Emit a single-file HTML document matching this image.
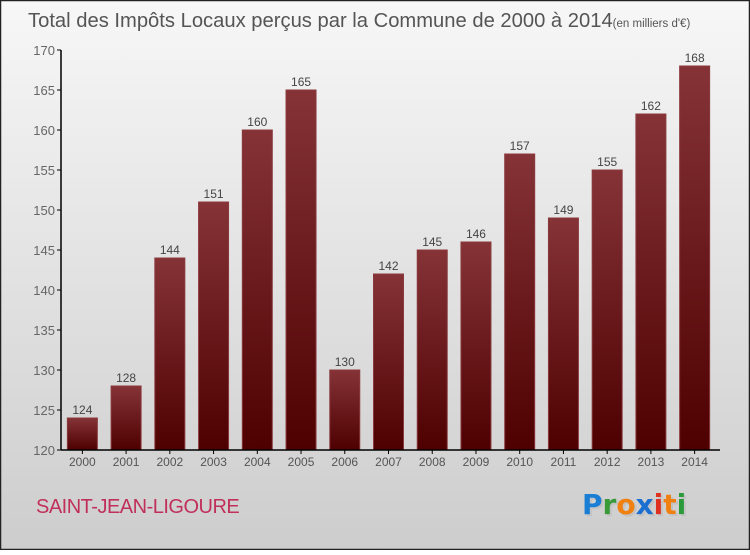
<!DOCTYPE html>
<html><head><meta charset="utf-8"><style>
body{margin:0;width:750px;height:550px;overflow:hidden;font-family:"Liberation Sans",sans-serif}
</style></head><body>
<svg width="750" height="550" xmlns="http://www.w3.org/2000/svg">
<defs>
<linearGradient id="bg" x1="0" y1="0" x2="0" y2="1"><stop offset="0" stop-color="#f7f7f7"/><stop offset="1" stop-color="#cdcdcd"/></linearGradient>
<linearGradient id="bar" x1="0" y1="0" x2="0" y2="1"><stop offset="0" stop-color="#853337"/><stop offset="1" stop-color="#4e0000"/></linearGradient>
</defs>
<rect x="0.5" y="0.5" width="749" height="549" fill="url(#bg)" stroke="#222" stroke-width="1.5"/>
<text x="28" y="27" font-size="20.2" fill="#555">Total des Impôts Locaux perçus par la Commune de 2000 à 2014<tspan font-size="11.5">(en milliers d'€)</tspan></text>
<g id="plot"></g>
<text x="36" y="513" font-size="20" fill="#c0305a" letter-spacing="-0.5">SAINT-JEAN-LIGOURE</text>
<g font-size="28" font-family="'DejaVu Sans',sans-serif" font-weight="bold">
<text x="584" y="516" fill="#bbb" opacity="0.6">Proxiti</text>
<text x="582" y="514"><tspan fill="#1a7fd4">P</tspan><tspan fill="#3a9a3a">r</tspan><tspan fill="#f08010">o</tspan><tspan fill="#1a6fd0">x</tspan><tspan fill="#e03020">i</tspan><tspan fill="#f08010">t</tspan><tspan fill="#2a9a3a">i</tspan></text>
</g>
</svg>
<script>
const years=["2000","2001","2002","2003","2004","2005","2006","2007","2008","2009","2010","2011","2012","2013","2014"];
const values=[124,128,144,151,160,165,130,142,145,146,157,149,155,162,168];
const yTicks=[120,125,130,135,140,145,150,155,160,165,170];
const NS="http://www.w3.org/2000/svg";
const g=document.getElementById('plot');
const y0=450,y1=50,vmin=120,vmax=170,x0=61,x1=720;
const y=v=>y0-(v-vmin)/(vmax-vmin)*(y0-y1);
const step=(x1-x0-3)/years.length;
const cx=i=>x0+step*(i+0.5)-0.5;
function el(t,a){const e=document.createElementNS(NS,t);for(const k in a)e.setAttribute(k,a[k]);g.appendChild(e);return e;}
yTicks.forEach(t=>{
  const l=el('line',{x1:x0-4,x2:x0,y1:y(t),y2:y(t),stroke:'#000'});
  
  
  const tx=el('text',{x:x0-6,y:y(t)+5,'text-anchor':'end','font-size':13,fill:'#666'});
  tx.textContent=t;
  
  
});
values.forEach((v,i)=>{
  const w=30;
  const r=el('rect',{x:cx(i)-w/2,y:y(v),width:w,height:y0-y(v),fill:'url(#bar)',stroke:'#8a3a3e','stroke-width':1});
  
  
  const t=el('text',{x:cx(i),y:y(v)-4,'text-anchor':'middle','font-size':12,fill:'#444'});
  t.textContent=v;
  
  
  const xl=el('text',{x:cx(i),y:y0+16,'text-anchor':'middle','font-size':12,fill:'#555'});
  xl.textContent=years[i];
  
  
  const tk=el('line',{x1:cx(i),x2:cx(i),y1:y0,y2:y0+4,stroke:'#000'});
  
  
});
const ya=el('line',{x1:x0,x2:x0,y1:y1,y2:y0,stroke:'#000','stroke-width':1.5});


const xa=el('line',{x1:x0,x2:x1,y1:y0,y2:y0,stroke:'#000','stroke-width':1.5});


</script>
</body></html>
